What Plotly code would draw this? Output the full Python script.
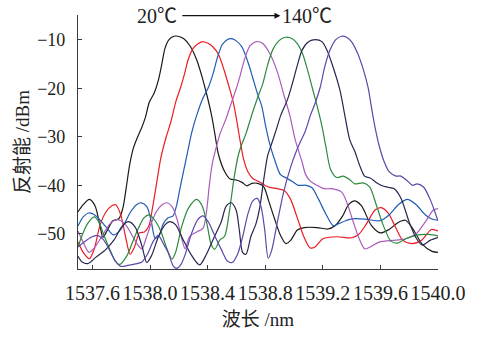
import plotly.graph_objects as go

# Reflection spectra of the grating at seven temperatures (20 °C -> 140 °C)
wl_black = [1537.500, 1537.536, 1537.579, 1537.618, 1537.653, 1537.673, 1537.701, 1537.742, 1537.783, 1537.810,
            1537.834, 1537.858, 1537.886, 1537.913, 1537.940, 1537.968, 1537.995, 1538.029, 1538.057, 1538.081,
            1538.105, 1538.132, 1538.166, 1538.194, 1538.235, 1538.281, 1538.326, 1538.360, 1538.395, 1538.429,
            1538.451, 1538.475, 1538.519, 1538.557, 1538.598, 1538.639, 1538.673, 1538.708, 1538.749, 1538.790,
            1538.824, 1538.865, 1538.906, 1538.944, 1538.978, 1539.023, 1539.071, 1539.160, 1539.235, 1539.283,
            1539.338, 1539.379, 1539.420, 1539.468, 1539.536, 1539.598, 1539.660, 1539.721, 1539.773, 1539.822,
            1539.890, 1539.959, 1540.000]
db_black = [-45.5, -44.0, -42.9, -44.2, -48.4, -50.7, -49.4, -47.3, -46.9, -44.9,
            -40.7, -35.9, -32.2, -30.1, -28.3, -26.0, -22.9, -21.0, -18.5, -15.2,
            -11.7, -10.0, -9.3, -9.3, -9.8, -11.4, -14.3, -17.5, -21.4, -25.8,
            -29.5, -33.6, -37.2, -38.7, -38.9, -39.4, -40.1, -39.6, -39.6, -40.3,
            -43.2, -46.9, -50.3, -52.0, -51.3, -49.2, -48.7, -48.7, -49.0, -48.4,
            -46.3, -44.0, -43.2, -44.2, -48.2, -49.8, -49.1, -47.7, -47.2, -48.8,
            -52.1, -53.6, -53.8]

wl_red = [1537.500, 1537.536, 1537.579, 1537.612, 1537.653, 1537.694, 1537.735, 1537.762, 1537.797, 1537.831,
          1537.862, 1537.892, 1537.927, 1537.961, 1537.992, 1538.016, 1538.043, 1538.077, 1538.112, 1538.146,
          1538.180, 1538.214, 1538.242, 1538.262, 1538.297, 1538.331, 1538.365, 1538.399, 1538.434, 1538.475,
          1538.516, 1538.550, 1538.577, 1538.601, 1538.625, 1538.649, 1538.680, 1538.714, 1538.762, 1538.817,
          1538.886, 1538.934, 1538.975, 1539.023, 1539.067, 1539.112, 1539.146, 1539.201, 1539.297, 1539.399,
          1539.447, 1539.502, 1539.563, 1539.605, 1539.653, 1539.708, 1539.755, 1539.817, 1539.886, 1539.954,
          1540.000]
db_red = [-51.7, -53.8, -55.1, -53.2, -48.2, -45.5, -44.2, -44.0, -46.1, -50.7,
          -54.2, -52.7, -49.8, -49.6, -48.4, -44.9, -40.1, -34.1, -30.1, -26.8,
          -22.7, -19.7, -16.8, -14.4, -11.9, -10.9, -10.4, -10.7, -11.4, -13.0,
          -16.4, -19.8, -22.7, -26.4, -30.7, -34.5, -37.2, -38.6, -39.3, -40.3,
          -40.7, -41.1, -42.8, -46.7, -50.5, -52.9, -52.7, -51.0, -50.6, -50.8,
          -50.2, -48.0, -45.1, -44.6, -45.7, -48.8, -51.3, -52.0, -51.3, -49.1,
          -49.4]

wl_blue = [1537.500, 1537.536, 1537.577, 1537.625, 1537.666, 1537.701, 1537.745, 1537.783, 1537.817, 1537.865,
           1537.906, 1537.940, 1537.978, 1538.009, 1538.036, 1538.064, 1538.091, 1538.125, 1538.160, 1538.184,
           1538.208, 1538.235, 1538.262, 1538.290, 1538.324, 1538.365, 1538.406, 1538.440, 1538.468, 1538.502,
           1538.536, 1538.563, 1538.597, 1538.638, 1538.680, 1538.714, 1538.745, 1538.776, 1538.803, 1538.838,
           1538.872, 1538.906, 1538.947, 1538.988, 1539.029, 1539.084, 1539.125, 1539.171, 1539.221, 1539.273,
           1539.310, 1539.358, 1539.406, 1539.502, 1539.598, 1539.660, 1539.728, 1539.788, 1539.845, 1539.913,
           1539.961, 1540.000]
db_blue = [-48.4, -46.5, -45.7, -46.3, -47.6, -48.8, -50.2, -49.6, -48.2, -45.5,
           -44.0, -43.6, -44.4, -47.5, -50.9, -50.3, -48.0, -46.7, -46.3, -44.2,
           -40.7, -36.8, -33.0, -29.1, -25.6, -22.2, -19.8, -16.8, -13.7, -11.0,
           -10.0, -9.8, -10.2, -11.5, -14.6, -17.9, -21.0, -23.7, -27.8, -32.2,
           -35.3, -37.8, -38.5, -39.2, -40.0, -40.0, -40.5, -42.9, -45.9, -48.3,
           -47.9, -47.3, -46.9, -47.0, -47.3, -46.1, -43.9, -42.9, -43.9, -46.1,
           -47.0, -47.2]

wl_purple = [1537.500, 1537.536, 1537.577, 1537.618, 1537.670, 1537.721, 1537.762, 1537.797, 1537.838, 1537.879,
             1537.916, 1537.944, 1537.975, 1538.009, 1538.043, 1538.084, 1538.118, 1538.153, 1538.187, 1538.218,
             1538.244, 1538.276, 1538.324, 1538.369, 1538.392, 1538.413, 1538.434, 1538.458, 1538.485, 1538.529,
             1538.564, 1538.598, 1538.625, 1538.656, 1538.694, 1538.738, 1538.783, 1538.838, 1538.886, 1538.930,
             1538.971, 1539.009, 1539.033, 1539.057, 1539.081, 1539.115, 1539.160, 1539.208, 1539.262, 1539.331,
             1539.365, 1539.409, 1539.454, 1539.492, 1539.536, 1539.591, 1539.708, 1539.776, 1539.845, 1539.913,
             1539.968, 1540.000]
db_purple = [-49.4, -51.7, -53.8, -52.7, -50.3, -48.0, -47.1, -47.3, -48.4, -50.5,
             -52.3, -53.1, -50.7, -47.8, -45.5, -44.0, -43.6, -44.4, -46.9, -50.7,
             -53.1, -50.5, -49.6, -48.8, -45.5, -39.7, -35.3, -32.4, -29.5, -26.2,
             -23.1, -20.2, -17.5, -14.1, -11.3, -10.4, -10.8, -13.2, -16.8, -21.4,
             -25.6, -30.7, -33.0, -35.3, -37.8, -39.2, -40.0, -40.7, -40.7, -41.4,
             -43.4, -47.3, -51.1, -53.1, -52.6, -51.7, -51.3, -51.0, -50.1, -47.5,
             -45.1, -44.8]

wl_green = [1537.500, 1537.529, 1537.564, 1537.612, 1537.646, 1537.680, 1537.721, 1537.759, 1537.790, 1537.838,
            1537.879, 1537.920, 1537.958, 1537.995, 1538.036, 1538.077, 1538.118, 1538.153, 1538.180, 1538.221,
            1538.269, 1538.324, 1538.362, 1538.396, 1538.424, 1538.449, 1538.484, 1538.518, 1538.550, 1538.584,
            1538.615, 1538.639, 1538.666, 1538.711, 1538.749, 1538.783, 1538.817, 1538.852, 1538.896, 1538.941,
            1538.988, 1539.023, 1539.057, 1539.091, 1539.125, 1539.160, 1539.194, 1539.221, 1539.255, 1539.297,
            1539.341, 1539.386, 1539.423, 1539.479, 1539.525, 1539.571, 1539.619, 1539.673, 1539.719, 1539.776,
            1539.845, 1539.934, 1540.000]
db_green = [-52.7, -50.3, -48.0, -46.5, -47.6, -50.3, -53.2, -55.6, -56.3, -54.6,
            -51.7, -48.8, -46.7, -46.1, -47.3, -49.6, -53.1, -55.2, -53.6, -48.4,
            -44.6, -42.9, -44.2, -48.0, -52.1, -53.2, -51.3, -50.5, -45.7, -38.4,
            -33.6, -31.4, -29.4, -25.1, -21.8, -19.1, -15.2, -12.1, -10.2, -9.5,
            -9.8, -10.8, -12.7, -15.9, -19.7, -23.6, -27.8, -32.0, -36.8, -38.4,
            -38.1, -38.8, -39.7, -39.5, -40.3, -44.0, -48.2, -51.5, -51.9, -51.0,
            -50.3, -50.1, -50.4]

wl_navy = [1537.500, 1537.529, 1537.571, 1537.625, 1537.694, 1537.749, 1537.807, 1537.851, 1537.899, 1537.944,
           1537.978, 1538.012, 1538.057, 1538.105, 1538.139, 1538.177, 1538.232, 1538.290, 1538.345, 1538.392,
           1538.447, 1538.495, 1538.529, 1538.564, 1538.598, 1538.621, 1538.643, 1538.666, 1538.701, 1538.735,
           1538.762, 1538.790, 1538.817, 1538.845, 1538.874, 1538.908, 1538.954, 1538.988, 1539.023, 1539.057,
           1539.103, 1539.148, 1539.194, 1539.228, 1539.274, 1539.319, 1539.353, 1539.388, 1539.422, 1539.456,
           1539.490, 1539.529, 1539.571, 1539.612, 1539.653, 1539.696, 1539.742, 1539.799, 1539.845, 1539.890,
           1539.947, 1540.000]
db_navy = [-54.6, -55.8, -56.1, -54.8, -53.2, -51.3, -48.4, -47.5, -48.7, -52.5,
           -55.9, -54.4, -50.7, -48.1, -47.5, -48.1, -51.3, -54.5, -56.4, -54.2,
           -50.6, -47.5, -44.3, -43.6, -45.1, -49.4, -53.8, -54.2, -50.5, -48.0,
           -44.6, -38.8, -33.9, -31.4, -28.8, -25.6, -22.4, -19.1, -15.3, -12.1,
           -10.4, -10.0, -10.4, -12.1, -15.9, -20.4, -25.6, -30.7, -33.0, -35.9,
           -38.1, -38.5, -39.4, -40.1, -40.4, -40.7, -42.6, -47.5, -50.7, -52.3,
           -51.3, -50.7]

wl_indigo = [1537.500, 1537.543, 1537.591, 1537.632, 1537.673, 1537.715, 1537.755, 1537.797, 1537.845, 1537.899,
             1537.944, 1537.982, 1538.023, 1538.057, 1538.091, 1538.125, 1538.163, 1538.187, 1538.215, 1538.245,
             1538.290, 1538.331, 1538.368, 1538.406, 1538.454, 1538.495, 1538.537, 1538.571, 1538.608, 1538.646,
             1538.680, 1538.714, 1538.745, 1538.771, 1538.796, 1538.821, 1538.845, 1538.879, 1538.927, 1538.975,
             1539.016, 1539.045, 1539.079, 1539.114, 1539.148, 1539.182, 1539.216, 1539.251, 1539.290, 1539.331,
             1539.365, 1539.399, 1539.440, 1539.479, 1539.514, 1539.536, 1539.559, 1539.591, 1539.627, 1539.661,
             1539.708, 1539.742, 1539.788, 1539.822, 1539.856, 1539.901, 1539.947, 1539.982, 1540.000]
db_indigo = [-52.7, -51.7, -50.7, -50.3, -51.1, -53.1, -55.4, -56.7, -56.5, -56.2,
             -55.8, -54.2, -51.5, -50.3, -51.9, -53.8, -56.7, -57.1, -56.3, -54.2,
             -49.8, -47.1, -46.3, -47.6, -50.7, -53.2, -55.6, -55.9, -54.2, -50.3,
             -45.9, -43.2, -42.7, -44.4, -49.0, -55.0, -53.4, -48.4, -41.5, -36.4,
             -33.0, -31.0, -28.8, -25.6, -23.0, -19.8, -15.3, -12.1, -10.0, -9.3,
             -9.5, -10.4, -12.7, -15.9, -19.8, -23.6, -27.5, -31.8, -35.2, -37.2,
             -38.1, -38.1, -39.1, -40.0, -39.7, -40.4, -43.0, -45.8, -47.3]

series = [
    (wl_black, db_black, "#1a1a1a"),
    (wl_red, db_red, "#ec1c24"),
    (wl_blue, db_blue, "#1f5cb3"),
    (wl_purple, db_purple, "#a85cbc"),
    (wl_green, db_green, "#2c8a3c"),
    (wl_navy, db_navy, "#26264f"),
    (wl_indigo, db_indigo, "#5b48aa"),
]

x_ticks = [1537.6, 1538.0, 1538.4, 1538.8, 1539.2, 1539.6, 1540.0]
x_ticklabels = ["1537.6", "1538.0", "1538.4", "1538.8", "1539.2", "1539.6", "1540.0"]
y_ticks = [-50, -40, -30, -20, -10, -5]
y_ticklabels = ["\u221250", "\u221240", "\u221230", "\u221220", "\u221210", ""]

SERIF = "Liberation Serif, Noto Sans CJK SC, serif"
AXIS_COLOR = "#3a3a3a"

fig = go.Figure()
for wl, db, color in series:
    fig.add_trace(go.Scatter(
        x=wl, y=db, mode="lines",
        line=dict(color=color, width=1.2, shape="spline", smoothing=0.8),
        showlegend=False, hoverinfo="skip",
    ))

# Temperature sweep label with arrow along the top of the plot
arrow_y = -5.05
fig.add_annotation(x=1538.906, y=arrow_y, ax=1538.214, ay=arrow_y,
                   xref="x", yref="y", axref="x", ayref="y",
                   showarrow=True, arrowhead=2, arrowsize=1.0, arrowwidth=1.2,
                   arrowcolor="#111111", text="")
fig.add_annotation(x=1538.200, y=arrow_y, xref="x", yref="y", text="20\u2103",
                   showarrow=False, xanchor="right", yanchor="middle",
                   font=dict(family=SERIF, size=20, color="#222222"))
fig.add_annotation(x=1538.906, y=arrow_y, xref="x", yref="y", text="140\u2103",
                   showarrow=False, xanchor="left", yanchor="middle",
                   font=dict(family=SERIF, size=20, color="#222222"))

fig.update_layout(
    width=478, height=338,
    margin=dict(l=78, r=35, t=15, b=52),
    paper_bgcolor="white", plot_bgcolor="white",
    font=dict(family=SERIF, color="#222222"),
)
fig.update_xaxes(
    range=[1537.5, 1540.0], tickvals=x_ticks, ticktext=x_ticklabels,
    ticks="inside", ticklen=4, tickwidth=1, tickcolor=AXIS_COLOR,
    showline=True, linecolor=AXIS_COLOR, linewidth=1.2, mirror=False,
    showgrid=False, zeroline=False,
    tickfont=dict(family=SERIF, size=20, color="#222222"),
    ticklabelstandoff=6,
    title=dict(text="波长 /nm", font=dict(family=SERIF, size=19, color="#222222"), standoff=9),
)
fig.update_yaxes(
    range=[-57.24, -4.92], tickvals=y_ticks, ticktext=y_ticklabels,
    ticks="inside", ticklen=4, tickwidth=1, tickcolor=AXIS_COLOR,
    showline=True, linecolor=AXIS_COLOR, linewidth=1.2, mirror=False,
    showgrid=False, zeroline=False,
    tickfont=dict(family=SERIF, size=18, color="#222222"),
    ticklabelstandoff=8,
    title=dict(text="反射能 /dBm", font=dict(family=SERIF, size=19, color="#222222"), standoff=2),
)

fig.write_html("out.html")
